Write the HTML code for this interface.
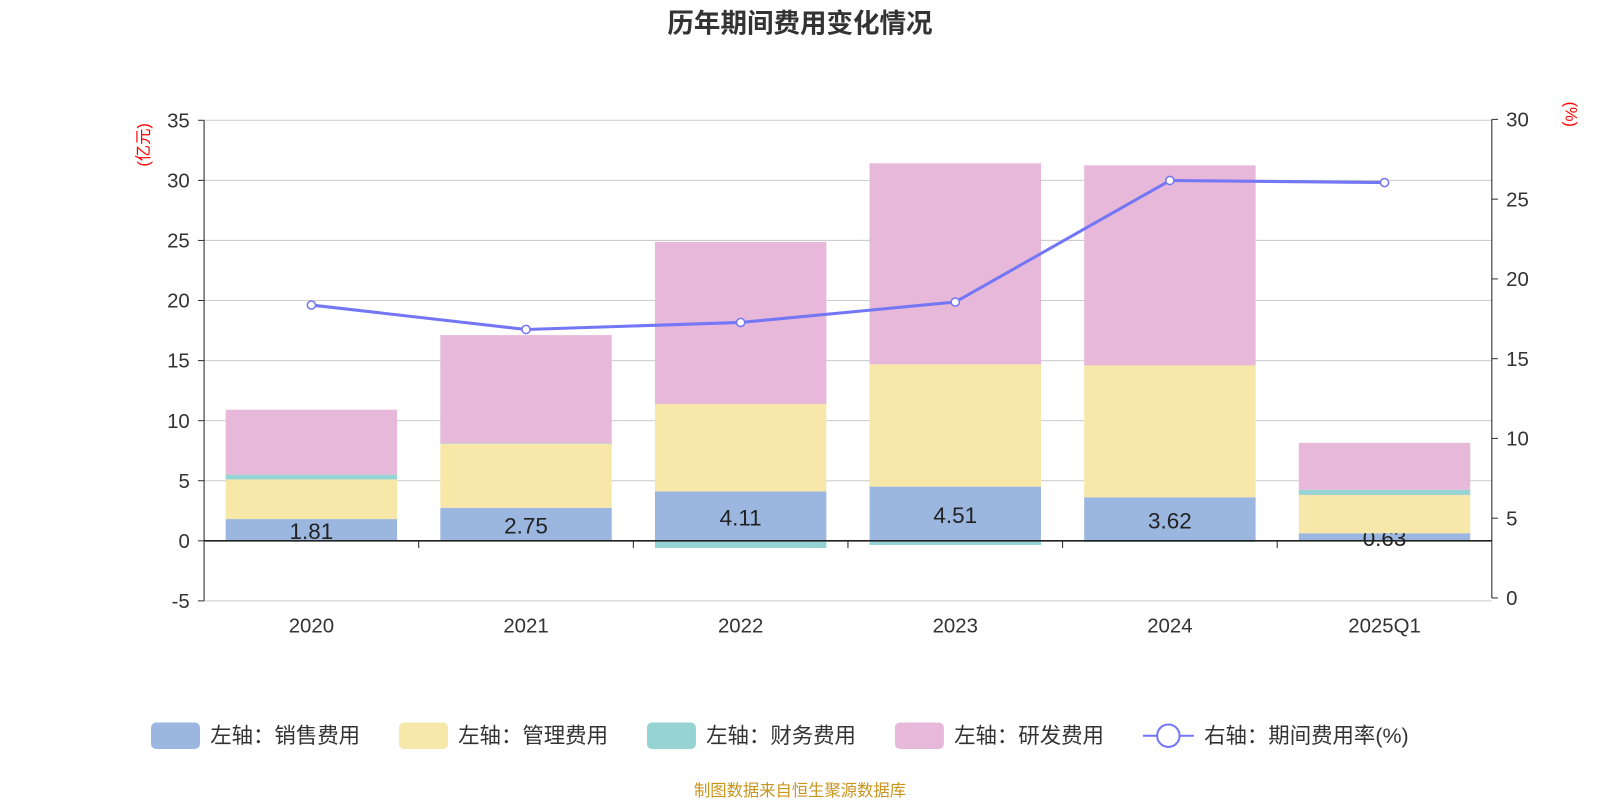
<!DOCTYPE html>
<html><head><meta charset="utf-8"><style>
body{margin:0;background:#fff;}
svg text{font-family:"Liberation Sans","Noto Sans CJK SC",sans-serif;}
</style></head><body>
<svg id="chart" width="1600" height="800" viewBox="0 0 1568 784" xmlns="http://www.w3.org/2000/svg"></svg>
<script>
const categories=["2020","2021","2022","2023","2024","2025Q1"];
const sales=[1.81,2.75,4.11,4.51,3.62,0.63];
const mgmt=[3.3,5.32,7.27,10.18,10.98,3.19];
const finance=[0.4,0.05,-0.6,-0.35,-0.1,0.43];
const rnd=[5.4,9.0,13.5,16.73,16.65,3.9];
const rate=[18.36,16.83,17.27,18.55,26.17,26.04];
const leftTicks=[-5,0,5,10,15,20,25,30,35];
const rightTicks=[0,5,10,15,20,25,30];

const NS="http://www.w3.org/2000/svg";
const svg=document.getElementById('chart');
function el(t,a,p){const e=document.createElementNS(NS,t);for(const k in a)e.setAttribute(k,a[k]);(p||svg).appendChild(e);return e;}
const X0=200,X1=1462;
const yL=v=>530-v*(471/40);
const yR=v=>586-v*(469/30);
const bw=(X1-X0)/categories.length;
const cx=i=>X0+bw*(i+0.5);
const barW=168;

let t=el('text',{x:784,y:32,'text-anchor':'middle','font-size':26,'font-weight':'bold',fill:'#333'});
t.textContent='历年期间费用变化情况';


leftTicks.forEach(v=>{
 const g=el('line',{x1:X0,x2:X1,y1:yL(v),y2:yL(v),stroke:'#ccc','stroke-width':1});
 
 const l=el('text',{x:186,y:yL(v)+7,'text-anchor':'end','font-size':20,fill:'#333'});
 l.textContent=v;
 
 el('line',{x1:194,x2:X0,y1:yL(v),y2:yL(v),stroke:'#333'});
});
rightTicks.forEach(v=>{
 const l=el('text',{x:1476,y:yR(v)+7,'font-size':20,fill:'#333'});
 l.textContent=v;
 
 el('line',{x1:X1,x2:X1+6,y1:yR(v),y2:yR(v),stroke:'#333'});
});
let u=el('text',{transform:'translate(146,142) rotate(-90)','text-anchor':'middle','font-size':16,fill:'red'});u.textContent='(亿元)';

u=el('text',{transform:'translate(1534,112) rotate(90)','text-anchor':'middle','font-size':16,fill:'red'});u.textContent='(%)';


const colors=['#9bb7e0','#f7e7a8','#96d3d3','#e7b8d9'];
categories.forEach((c,i)=>{
 const x=cx(i)-barW/2;
 let pos=0,neg=0;
 const segs=[[sales[i],0,'bar-sales'],[mgmt[i],1,'bar-management'],[finance[i],2,'bar-finance'],[rnd[i],3,'bar-rnd']];
 segs.forEach(([v,k,n],si)=>{
  let y0,y1;
  if(v>=0){y0=pos;y1=pos+v;pos=y1;}else{y0=neg;y1=neg+v;neg=y1;}
  const r=el('rect',{x:x,width:barW,y:Math.min(yL(y0),yL(y1)),height:Math.abs(yL(y1)-yL(y0)),fill:colors[k]});
  
  if(si===0){
   const l=el('text',{x:cx(i),y:(yL(0)+yL(v))/2+9,'text-anchor':'middle','font-size':22,fill:'#222'});
   l.textContent=v.toFixed(2);
   
  }
 });
 const l=el('text',{x:cx(i),y:620,'text-anchor':'middle','font-size':20,fill:'#333'});
 l.textContent=c;
 
});
el('line',{x1:X0,x2:X1,y1:yL(0),y2:yL(0),stroke:'#222','stroke-width':1.5});
for(let i=1;i<categories.length;i++) el('line',{x1:X0+bw*i,x2:X0+bw*i,y1:yL(0),y2:yL(0)+7,stroke:'#222'});
el('line',{x1:X0,x2:X0,y1:yL(35),y2:yL(-5),stroke:'#222'});
el('line',{x1:X1,x2:X1,y1:yR(30),y2:yR(0),stroke:'#222'});

const pts=rate.map((v,i)=>cx(i)+','+yR(v)).join(' ');
const pl=el('polyline',{points:pts,fill:'none',stroke:'#7477f5','stroke-width':3});

rate.forEach((v,i)=>{
 const p=el('circle',{cx:cx(i),cy:yR(v),r:4,fill:'#fff',stroke:'#7477f5','stroke-width':1.5});
 
});

const leg=[['左轴：销售费用',colors[0],148],['左轴：管理费用',colors[1],391],['左轴：财务费用',colors[2],634],['左轴：研发费用',colors[3],877]];
leg.forEach(([n,c,x])=>{
 const g=el('g',{});
 
 el('rect',{x:x,y:708,width:48,height:26,rx:5,fill:c},g);
 const tt=el('text',{x:x+58,y:728,'font-size':21,fill:'#333'},g);tt.textContent=n;
});
const g=el('g',{});

el('line',{x1:1120,x2:1170,y1:721,y2:721,stroke:'#7477f5','stroke-width':2},g);
el('circle',{cx:1145,cy:721,r:11,fill:'#fff',stroke:'#7477f5','stroke-width':2},g);
const tt=el('text',{x:1180,y:728,'font-size':21,fill:'#333'},g);tt.textContent='右轴：期间费用率(%)';

const f=el('text',{x:784,y:780,'text-anchor':'middle','font-size':16,fill:'#c8961e'});
f.textContent='制图数据来自恒生聚源数据库';

</script>
</body></html>
